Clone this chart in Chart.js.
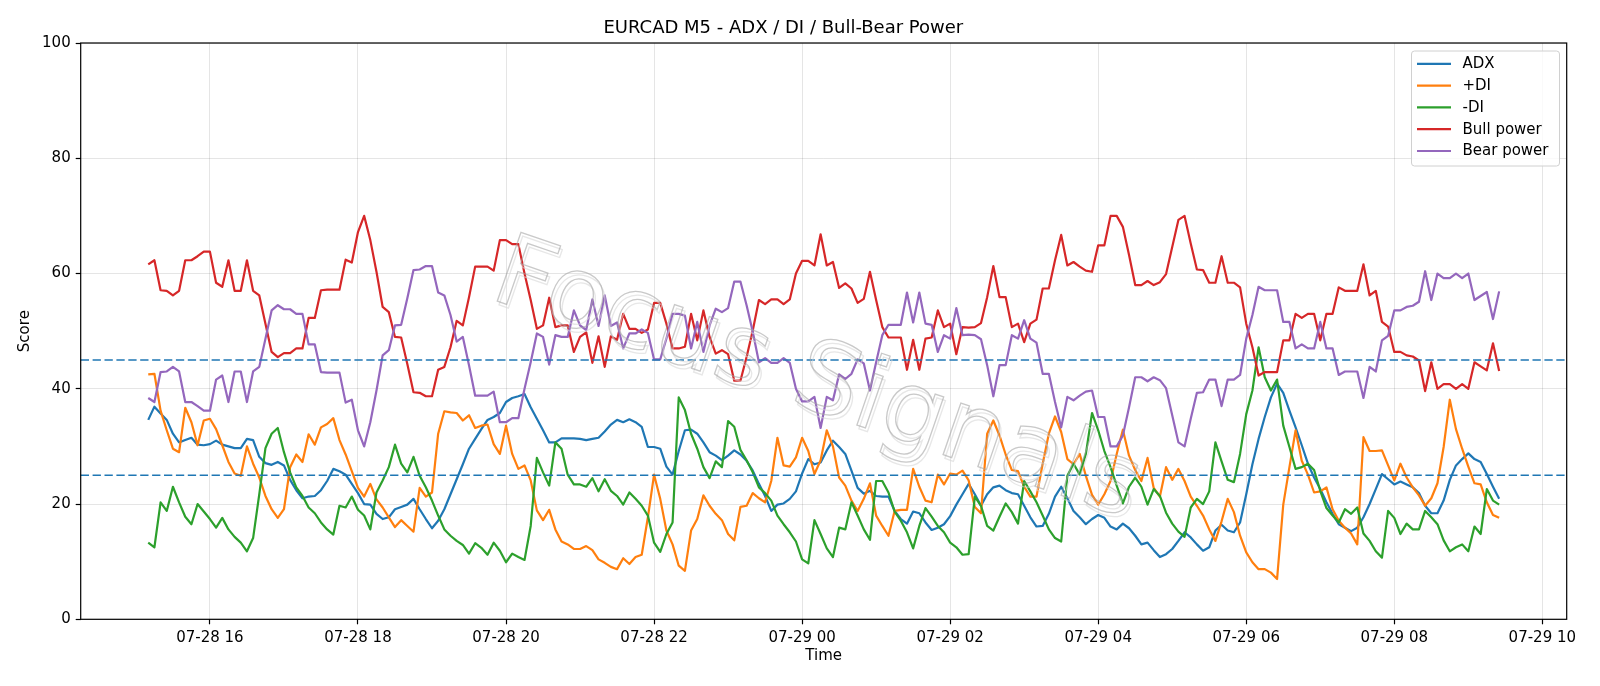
<!DOCTYPE html>
<html>
<head>
<meta charset="utf-8">
<script src="https://cdn.jsdelivr.net/npm/chart.js@4.4.0/dist/chart.umd.min.js"></script>
<style>
html,body{margin:0;padding:0;background:#ffffff;}
#wrap{width:1600px;height:686px;}
</style>
</head>
<body>
<div id="wrap"><canvas id="c" width="1600" height="686"></canvas></div>
<script>
// ---- time axis: minutes since 07-28 00:00, one bar every 5 minutes from 07-28 15:10 ----
const startMinute = 910;
const stepMinutes = 5;

// ---- series values ----
const adx = [
34.6,36.9,35.7,34.6,32.2,30.7,31.1,31.5,30.3,30.2,30.4,31.0,30.3,30.0,29.7,29.7,31.3,31.1,28.2,27.1,
26.8,27.3,26.7,24.2,22.4,21.0,21.3,21.4,22.4,24.0,26.1,25.7,25.1,23.5,21.9,20.0,19.9,18.3,
17.4,17.7,19.1,19.5,19.9,20.9,19.1,17.4,15.8,17.1,19.1,21.7,24.3,26.9,29.6,31.3,33.0,34.6,35.1,35.8,
37.7,38.4,38.7,39.1,36.8,34.8,32.8,30.7,30.7,31.4,31.4,31.4,31.3,31.1,31.3,31.5,32.6,
33.8,34.6,34.2,34.7,34.2,33.4,29.9,29.9,29.6,26.5,25.1,29.2,32.8,32.9,32.2,30.7,29.0,28.4,27.6,28.4,
29.3,28.6,27.5,25.8,23.5,21.4,18.8,19.9,20.1,20.9,22.2,25.3,27.8,26.9,27.2,29.3,31.0,29.9,
28.7,25.8,22.8,21.8,22.3,21.4,21.3,21.3,18.8,17.4,16.6,18.7,18.4,16.8,15.5,15.9,16.5,17.9,19.9,21.7,
23.5,21.7,19.7,21.7,22.9,23.2,22.4,21.9,21.7,19.7,17.7,16.1,16.2,18.3,21.3,23.0,21.0,
18.8,17.7,16.5,17.4,18.1,17.6,16.1,15.6,16.6,15.8,14.5,13.0,13.3,12.0,10.8,11.3,12.2,13.6,15.1,14.2,
13.0,11.9,12.5,15.4,16.4,15.4,15.1,16.8,21.7,26.9,31.3,35.1,38.5,40.9,39.3,36.2,33.3,
30.2,27.0,24.6,22.6,20.3,18.3,16.5,15.9,15.3,15.9,17.7,20.0,22.6,25.2,24.3,23.4,23.9,23.4,22.9,21.9,
19.7,18.4,18.4,20.6,24.2,26.7,27.8,28.8,27.8,27.3,25.2,23.0,20.9
];
const plusDI = [
42.5,42.6,36.2,32.8,29.6,29.0,36.7,34.2,30.2,34.5,34.8,33.0,30.2,27.3,25.3,24.9,30.0,27.0,24.6,21.4,
19.1,17.6,19.1,26.4,28.6,27.3,32.1,30.3,33.3,33.9,34.9,31.1,28.6,25.7,22.8,21.3,23.5,20.8,
19.4,17.7,16.0,17.2,16.2,15.2,22.8,21.3,22.0,32.2,36.1,35.9,35.8,34.5,35.4,33.2,33.6,33.8,30.4,28.7,
33.6,28.7,26.1,26.7,24.1,18.9,17.2,19.0,15.6,13.5,13.0,12.2,12.2,12.7,12.0,10.4,9.8,
9.1,8.7,10.6,9.6,10.8,11.2,17.7,25.1,20.9,15.4,13.0,9.3,8.4,15.4,17.4,21.5,19.7,18.3,17.2,14.8,
13.7,19.5,19.7,21.9,21.0,20.3,24.0,31.5,26.7,26.5,28.1,31.5,29.2,25.2,27.6,32.8,30.0,24.6,
23.2,20.6,18.8,20.9,23.6,18.0,16.2,14.5,18.8,19.0,19.0,26.1,23.0,20.6,20.3,25.1,23.4,25.3,25.1,25.8,
24.1,19.5,18.4,32.2,34.5,31.9,28.6,25.9,25.7,23.0,21.3,21.3,27.0,32.2,35.2,32.5,27.8,
26.9,28.7,24.9,21.6,19.9,21.7,24.0,28.7,32.9,28.4,25.9,24.0,28.0,22.8,21.3,26.4,24.2,26.1,24.0,21.3,
19.7,18.0,15.6,13.6,17.0,20.9,18.6,14.5,11.6,9.9,8.7,8.7,8.1,7.0,19.9,26.4,32.8,
27.5,25.1,22.0,22.2,22.9,19.1,17.1,15.9,14.9,13.0,31.6,29.2,29.2,29.3,26.7,24.1,27.0,24.6,22.9,21.5,
19.7,21.0,23.6,29.9,38.1,33.0,29.6,26.5,23.6,23.4,20.3,18.1,17.6
];
const minusDI = [
13.3,12.5,20.3,18.8,23.0,20.3,17.8,16.5,20.0,18.7,17.4,15.9,17.6,15.6,14.3,13.3,11.8,14.1,21.7,29.7,
32.2,33.2,29.0,25.5,22.9,21.4,19.4,18.4,16.8,15.6,14.7,19.7,19.4,21.3,19.0,18.0,15.6,22.0,
24.1,26.4,30.3,27.0,25.5,28.2,24.9,22.9,20.6,18.0,15.6,14.5,13.6,12.9,11.4,13.2,12.4,11.2,13.3,11.9,
9.9,11.4,10.8,10.3,16.2,28.0,25.5,23.2,30.7,29.6,25.1,23.4,23.4,23.0,24.5,22.2,24.3,
22.3,21.4,19.9,22.0,20.9,19.7,18.0,13.3,11.7,14.8,16.8,38.5,36.3,32.2,29.6,26.4,24.5,27.4,26.4,34.4,
33.4,29.4,27.6,25.5,22.9,21.9,20.6,18.0,16.5,15.1,13.5,10.4,9.7,17.2,14.8,12.3,10.8,15.9,
15.6,20.3,18.0,15.6,13.8,24.0,24.0,22.0,18.7,17.1,15.1,12.3,16.2,19.3,17.8,16.2,15.1,13.3,12.5,11.2,
11.3,21.3,19.7,16.2,15.4,17.8,20.1,18.6,16.6,24.0,22.2,20.3,18.0,15.6,14.1,13.5,24.9,
27.0,25.1,28.7,35.8,32.8,29.2,26.4,23.2,20.1,23.0,24.6,23.0,19.9,22.6,21.4,18.5,16.6,15.2,14.3,19.4,
20.9,20.0,22.2,30.7,27.4,24.2,23.8,28.7,35.6,39.7,47.2,42.0,39.7,41.6,33.6,29.9,26.1,
26.4,27.0,25.9,22.3,19.3,18.0,16.8,19.1,18.3,19.4,14.9,13.6,11.8,10.7,18.8,17.6,14.8,16.6,15.6,15.6,
18.8,17.7,16.5,13.7,11.8,12.5,13.0,11.8,16.1,14.8,22.6,20.6,19.9
];
const bullPower = [
61.6,62.3,57.1,57.0,56.2,57.0,62.3,62.3,63.0,63.8,63.8,58.4,57.7,62.3,57.0,57.0,62.3,57.0,56.2,51.3,
46.4,45.5,46.2,46.2,47.0,47.0,52.3,52.3,57.1,57.2,57.2,57.2,62.4,61.9,67.2,70.0,65.8,60.3,
54.2,53.3,49.0,48.9,44.3,39.4,39.3,38.7,38.7,43.3,43.8,47.2,51.8,51.0,55.9,61.2,61.2,61.2,60.5,65.8,
65.8,65.1,65.1,60.0,55.4,50.4,51.0,55.8,50.7,51.0,51.0,46.4,49.0,49.8,44.5,49.1,43.8,
49.1,48.5,53.0,50.4,50.4,49.7,50.3,54.9,54.9,51.3,47.0,47.0,47.3,53.0,48.4,53.6,49.0,46.1,46.7,46.0,
41.4,41.4,45.5,50.1,55.4,54.7,55.5,55.5,54.7,55.5,60.0,62.2,62.2,61.4,66.8,61.4,62.0,57.5,
58.3,57.4,54.9,55.6,60.3,55.4,50.7,48.9,48.9,48.9,43.3,48.5,43.3,48.7,48.9,53.6,50.7,51.3,46.0,50.7,
50.6,50.7,51.4,55.9,61.3,55.9,55.9,50.7,51.3,48.1,51.3,52.0,57.4,57.4,62.3,66.7,61.4,
62.0,61.2,60.5,60.3,64.9,64.9,70.0,70.0,68.1,63.2,58.0,58.0,58.7,58.0,58.5,59.9,64.6,69.3,70.0,65.2,
60.7,60.6,58.4,58.4,63.0,58.4,58.4,57.6,51.3,47.2,42.3,42.9,42.9,42.9,48.4,48.4,53.0,
52.3,53.0,53.0,48.4,53.0,53.0,57.6,57.0,57.0,57.0,61.6,56.2,57.0,51.6,50.8,46.4,46.4,45.8,45.6,44.9,
39.6,44.6,40.0,40.8,40.8,40.0,40.8,40.0,44.6,43.9,43.2,47.9,43.1
];
const bearPower = [
38.4,37.7,42.9,43.0,43.8,43.0,37.7,37.7,37.0,36.2,36.2,41.6,42.3,37.7,43.0,43.0,37.7,43.0,43.8,48.7,
53.6,54.5,53.8,53.8,53.0,53.0,47.7,47.7,42.9,42.8,42.8,42.8,37.6,38.1,32.8,30.0,34.2,39.7,
45.8,46.7,51.0,51.1,55.7,60.6,60.7,61.3,61.3,56.7,56.2,52.8,48.2,49.0,44.1,38.8,38.8,38.8,39.5,34.2,
34.2,34.9,34.9,40.0,44.6,49.6,49.0,44.2,49.3,49.0,49.0,53.6,51.0,50.2,55.5,50.9,56.2,
50.9,51.5,47.0,49.6,49.6,50.3,49.7,45.1,45.1,48.7,53.0,53.0,52.7,47.0,51.6,46.4,51.0,53.9,53.3,54.0,
58.6,58.6,54.5,49.9,44.6,45.3,44.5,44.5,45.3,44.5,40.0,37.8,37.8,38.6,33.2,38.6,38.0,42.5,
41.7,42.6,45.1,44.4,39.7,44.6,49.3,51.1,51.1,51.1,56.7,51.5,56.7,51.3,51.1,46.4,49.3,48.7,54.0,49.3,
49.4,49.3,48.6,44.1,38.7,44.1,44.1,49.3,48.7,51.9,48.7,48.0,42.6,42.6,37.7,33.3,38.6,
38.0,38.8,39.5,39.7,35.1,35.1,30.0,30.0,31.9,36.8,42.0,42.0,41.3,42.0,41.5,40.1,35.4,30.7,30.0,34.8,
39.3,39.4,41.6,41.6,37.0,41.6,41.6,42.4,48.7,52.8,57.7,57.1,57.1,57.1,51.6,51.6,47.0,
47.7,47.0,47.0,51.6,47.0,47.0,42.4,43.0,43.0,43.0,38.4,43.8,43.0,48.4,49.2,53.6,53.6,54.2,54.4,55.1,
60.4,55.4,60.0,59.2,59.2,60.0,59.2,60.0,55.4,56.1,56.8,52.1,56.9
];

// ---- names, ticks, reference levels ----
const seriesNames = ['ADX', '+DI', '-DI', 'Bull power', 'Bear power'];
const seriesColors = ['#1f77b4', '#ff7f0e', '#2ca02c', '#d62728', '#9467bd'];
const xTickValues = [960, 1080, 1200, 1320, 1440, 1560, 1680, 1800, 1920, 2040];
const xTickLabels = ['07-28 16', '07-28 18', '07-28 20', '07-28 22', '07-29 00', '07-29 02', '07-29 04', '07-29 06', '07-29 08', '07-29 10'];
const yTickValues = [0, 20, 40, 60, 80, 100];
const thresholdLevels = [45, 25];
const chartTitle = 'EURCAD M5 - ADX / DI / Bull-Bear Power';
const xAxisTitle = 'Time';
const yAxisTitle = 'Score';
const watermarkText = 'Focus Signals';

const FONT = "'DejaVu Sans', 'Liberation Sans', sans-serif";
const times = adx.map((_, i) => startMinute + i * stepMinutes);
const allSeries = [adx, plusDI, minusDI, bullPower, bearPower];
const xMin = times[0] - (times[times.length - 1] - times[0]) * 0.05;
const xMax = times[times.length - 1] + (times[times.length - 1] - times[0]) * 0.05;

const datasets = allSeries.map((vals, k) => ({
  label: seriesNames[k],
  data: vals.map((v, i) => ({ x: times[i], y: v })),
  borderColor: seriesColors[k],
  backgroundColor: seriesColors[k],
  borderWidth: 2.2,
  pointRadius: 0,
  pointHoverRadius: 0,
  tension: 0,
  fill: false,
  borderJoinStyle: 'round',
  order: allSeries.length - k
}));

const thresholdPlugin = {
  id: 'thresholds',
  afterDatasetsDraw(chart) {
    const { ctx, chartArea, scales } = chart;
    ctx.save();
    ctx.strokeStyle = '#1f77b4';
    ctx.lineWidth = 1.6;
    ctx.setLineDash([8.3, 3.6]);
    thresholdLevels.forEach(lv => {
      const y = scales.y.getPixelForValue(lv);
      ctx.beginPath();
      ctx.moveTo(chartArea.left, y);
      ctx.lineTo(chartArea.right, y);
      ctx.stroke();
    });
    ctx.restore();
  }
};

const watermarkPlugin = {
  id: 'watermark',
  afterDatasetsDraw(chart) {
    const { ctx } = chart;
    ctx.save();
    ctx.translate(488, 298);
    ctx.rotate(19 * Math.PI / 180);
    ctx.font = "100px " + FONT;
    ctx.textAlign = 'left';
    ctx.textBaseline = 'alphabetic';
    ctx.lineWidth = 1.3;
    ctx.strokeStyle = 'rgba(215,215,215,0.6)';
    ctx.strokeText(watermarkText, 3, 3);
    ctx.strokeStyle = 'rgba(165,165,165,0.6)';
    ctx.strokeText(watermarkText, 0, 0);
    ctx.restore();
  }
};

const framePlugin = {
  id: 'frame',
  afterDatasetsDraw(chart) {
    const { ctx, chartArea } = chart;
    ctx.save();
    ctx.strokeStyle = '#000';
    ctx.lineWidth = 1.2;
    ctx.strokeRect(chartArea.left, chartArea.top, chartArea.right - chartArea.left, chartArea.bottom - chartArea.top);
    ctx.restore();
  }
};

const legendPlugin = {
  id: 'mplLegend',
  afterDraw(chart) {
    const { ctx } = chart;
    const x0 = 1411.5, y0 = 51, w = 148, h = 115, r = 3;
    ctx.save();
    ctx.beginPath();
    ctx.moveTo(x0 + r, y0);
    ctx.lineTo(x0 + w - r, y0);
    ctx.quadraticCurveTo(x0 + w, y0, x0 + w, y0 + r);
    ctx.lineTo(x0 + w, y0 + h - r);
    ctx.quadraticCurveTo(x0 + w, y0 + h, x0 + w - r, y0 + h);
    ctx.lineTo(x0 + r, y0 + h);
    ctx.quadraticCurveTo(x0, y0 + h, x0, y0 + h - r);
    ctx.lineTo(x0, y0 + r);
    ctx.quadraticCurveTo(x0, y0, x0 + r, y0);
    ctx.closePath();
    ctx.fillStyle = 'rgba(255,255,255,0.8)';
    ctx.fill();
    ctx.strokeStyle = '#d0d0d0';
    ctx.lineWidth = 1;
    ctx.stroke();
    ctx.font = "15px " + FONT;
    ctx.textAlign = 'left';
    ctx.textBaseline = 'middle';
    chart.data.datasets.forEach((ds, k) => {
      const y = 63.8 + k * 21.8;
      ctx.strokeStyle = ds.borderColor;
      ctx.lineWidth = 2.2;
      ctx.beginPath();
      ctx.moveTo(1417, y);
      ctx.lineTo(1451, y);
      ctx.stroke();
      ctx.fillStyle = '#000';
      ctx.fillText(ds.label, 1462.5, y + 0.5);
    });
    ctx.restore();
  }
};

new Chart(document.getElementById('c').getContext('2d'), {
  type: 'line',
  data: { datasets },
  options: {
    responsive: false,
    animation: false,
    devicePixelRatio: 1,
    layout: { padding: { left: 0, right: 33.3, top: 0, bottom: 0 } },
    plugins: {
      legend: { display: false },
      tooltip: { enabled: false },
      title: {
        display: true,
        text: chartTitle,
        color: '#000',
        font: { family: FONT, size: 18, weight: 'normal' },
        padding: { top: 18, bottom: 3.4 }
      }
    },
    scales: {
      x: {
        type: 'linear',
        min: xMin,
        max: xMax,
        afterBuildTicks: s => { s.ticks = xTickValues.map(v => ({ value: v })); },
        afterFit: s => { s.height = 66.7; },
        ticks: {
          callback: v => xTickLabels[xTickValues.indexOf(v)],
          color: '#000',
          font: { family: FONT, size: 15 },
          padding: 5,
          maxRotation: 0,
          autoSkip: false
        },
        grid: { color: 'rgba(0,0,0,0.1)', lineWidth: 1, tickColor: '#000', tickLength: 5, tickWidth: 1.2 },
        border: { display: false },
        title: { display: true, text: xAxisTitle, color: '#000', font: { family: FONT, size: 15 }, padding: { top: 0, bottom: 21 } }
      },
      y: {
        min: 0,
        max: 100,
        afterBuildTicks: s => { s.ticks = yTickValues.map(v => ({ value: v })); },
        afterFit: s => { s.width = 80.7; },
        ticks: { color: '#000', font: { family: FONT, size: 15 }, padding: 5 },
        grid: { color: 'rgba(0,0,0,0.1)', lineWidth: 1, tickColor: '#000', tickLength: 5, tickWidth: 1.2 },
        border: { display: false },
        title: { display: true, text: yAxisTitle, color: '#000', font: { family: FONT, size: 15 }, padding: { top: 16.5, bottom: 0 } }
      }
    }
  },
  plugins: [thresholdPlugin, watermarkPlugin, framePlugin, legendPlugin]
});
</script>
</body>
</html>
